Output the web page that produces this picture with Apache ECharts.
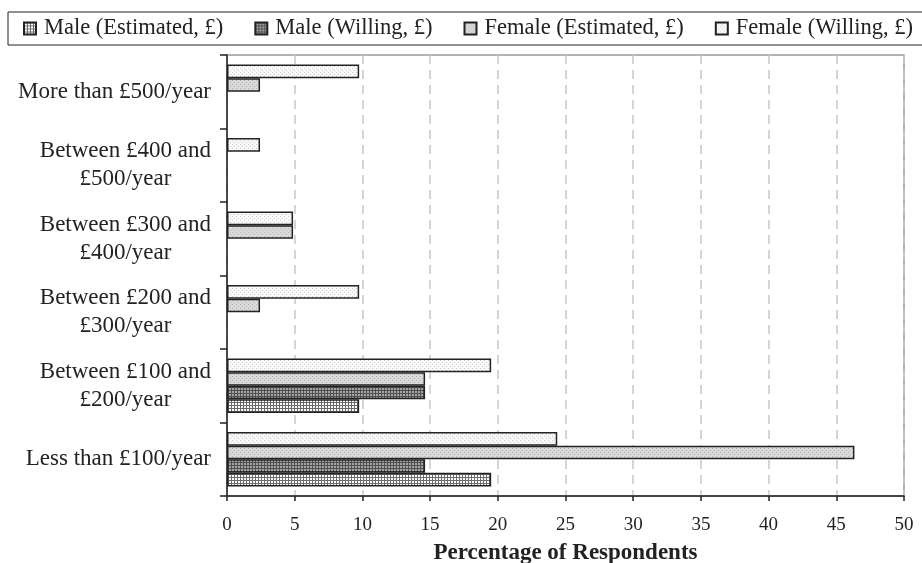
<!DOCTYPE html>
<html>
<head>
<meta charset="utf-8">
<script src="https://cdn.jsdelivr.net/npm/echarts@6/dist/echarts.min.js"></script>
<style>
  html, body { margin: 0; padding: 0; background: #fff; }
  #chart { width: 922px; height: 563px; }
</style>
</head>
<body>
<div id="chart"></div>
<script>
// Annual spend bands, listed from the bottom of the axis upwards
const categories = [
  'Less than £100/year',
  'Between £100 and\n£200/year',
  'Between £200 and\n£300/year',
  'Between £300 and\n£400/year',
  'Between £400 and\n£500/year',
  'More than £500/year'
];

// Percentage of respondents in each band
const maleEstimated   = [19.51, 9.76, null, null, null, null];
const maleWilling     = [14.63, 14.63, null, null, null, null];
const femaleEstimated = [46.34, 14.63, 2.44, 4.88, null, 2.44];
const femaleWilling   = [24.39, 19.51, 9.76, 4.88, 2.44, 9.76];

const seriesNames = [
  'Male (Estimated, £)',
  'Male (Willing, £)',
  'Female (Estimated, £)',
  'Female (Willing, £)'
];

const xTicks = { min: 0, max: 50, interval: 5 };

const FONT = "'Liberation Serif', 'Times New Roman', serif";
const INK = '#222';

// Small tiled fills for the monochrome bar textures
function tile(size, bg, paint) {
  const c = document.createElement('canvas');
  c.width = size; c.height = size;
  const g = c.getContext('2d');
  g.fillStyle = bg;
  g.fillRect(0, 0, size, size);
  paint(g);
  return { image: c, repeat: 'repeat' };
}
const gridFill = (bg, line) => tile(3, bg, g => {
  g.fillStyle = line;
  g.fillRect(0, 0, 3, 1);
  g.fillRect(0, 0, 1, 3);
});
const dotFill = (bg, dot) => tile(4, bg, g => {
  g.fillStyle = dot;
  g.fillRect(0, 0, 1, 1);
  g.fillRect(2, 2, 1, 1);
});

const fills = [
  gridFill('#ffffff', '#6a6a6a'),
  gridFill('#a4a4a4', '#505050'),
  dotFill('#d9d9d9', '#b4b4b4'),
  dotFill('#f8f8f8', '#cdcdcd')
];

const values = [maleEstimated, maleWilling, femaleEstimated, femaleWilling];

// Bars in a band stack top-down in series order, so the female series go first
const series = seriesNames.map((name, i) => ({
  name,
  type: 'bar',
  data: values[i],
  barGap: '0%',
  barCategoryGap: '26%',
  itemStyle: { color: fills[i], borderColor: INK, borderWidth: 1.5 }
})).reverse();

const chart = echarts.init(document.getElementById('chart'), null, { renderer: 'canvas' });

chart.setOption({
  animation: false,
  backgroundColor: '#fff',
  textStyle: { fontFamily: FONT, color: INK },
  legend: {
    left: 8,
    top: 12,
    width: 1000,
    padding: [5, 15, 5, 15],
    borderColor: INK,
    borderWidth: 1,
    icon: 'rect',
    itemWidth: 12,
    itemHeight: 12,
    itemGap: 31,
    selectedMode: false,
    textStyle: {
      fontFamily: FONT,
      fontSize: 22.5,
      color: INK,
      lineHeight: 23,
      padding: [0, 0, 0, 3]
    },
    data: seriesNames
  },
  grid: {
    left: 227,
    right: 18,
    top: 55,
    bottom: 67,
    outerBoundsMode: 'none',
    containLabel: false,
    show: true,
    borderColor: '#999',
    borderWidth: 1.5
  },
  xAxis: {
    type: 'value',
    min: xTicks.min,
    max: xTicks.max,
    interval: xTicks.interval,
    name: 'Percentage of Respondents',
    nameLocation: 'middle',
    nameGap: 46,
    nameTextStyle: { fontFamily: FONT, fontSize: 23, fontWeight: 'bold', color: INK },
    axisLine: { show: true, lineStyle: { color: INK, width: 1.5 } },
    axisTick: { show: true, length: 5, lineStyle: { color: INK, width: 1.5 } },
    axisLabel: { margin: 20, fontFamily: FONT, fontSize: 19, color: INK },
    splitLine: { show: true, lineStyle: { color: '#c8c8c8', width: 1.5, type: [9, 6] } }
  },
  yAxis: {
    type: 'category',
    data: categories,
    axisLine: { show: true, lineStyle: { color: INK, width: 1.5 } },
    axisTick: { show: true, length: 7, lineStyle: { color: INK, width: 1.5 } },
    axisLabel: {
      margin: 16,
      fontFamily: FONT,
      fontSize: 23,
      color: INK,
      lineHeight: 28,
      formatter: v => v.split('\n').map(s => '{c|' + s + '}').join('\n'),
      rich: {
        c: { align: 'center', fontFamily: FONT, fontSize: 23, color: INK, lineHeight: 28 }
      }
    },
    splitLine: { show: false }
  },
  series
});
</script>
</body>
</html>
